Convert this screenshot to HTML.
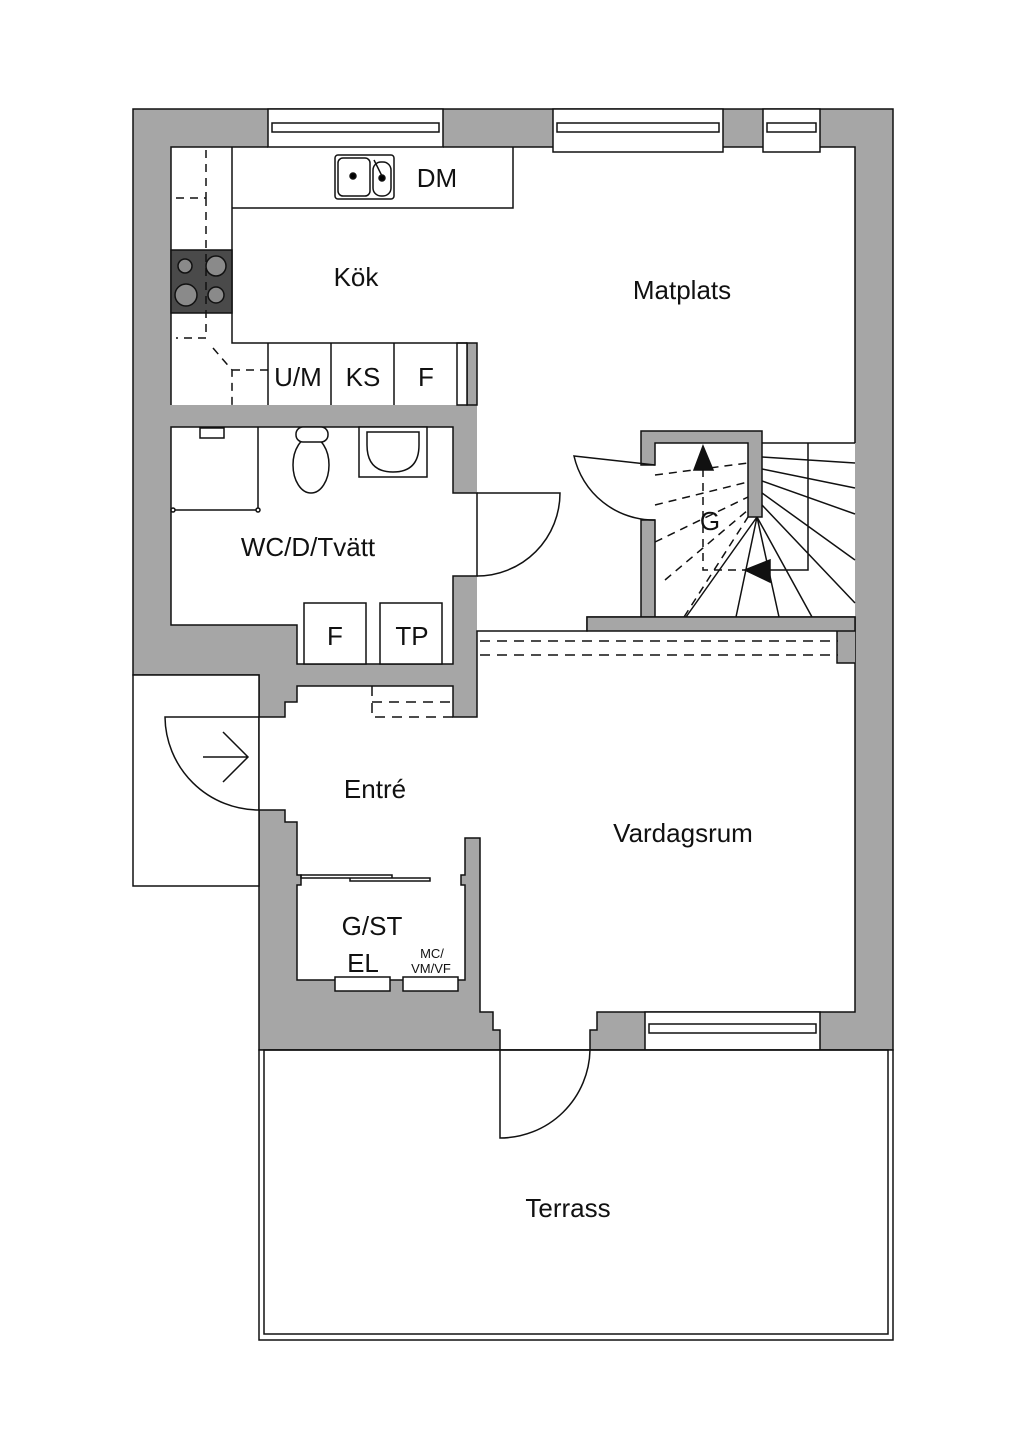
<!DOCTYPE html>
<html><head><meta charset="utf-8"><style>
html,body{margin:0;padding:0;background:#fff}
svg{display:block}
text{font-family:"Liberation Sans",sans-serif;fill:#111}
</style></head><body>
<svg width="1024" height="1448" viewBox="0 0 1024 1448" xmlns="http://www.w3.org/2000/svg">
<g stroke="#111" stroke-width="1.5">
<polygon fill="#a6a6a6" points="133,109 893,109 893,1050 259,1050 259,675 133,675"/>
<rect x="133" y="675" width="126" height="211" fill="#fff"/>
<polygon fill="#fff" stroke="none" points="171,147 855,147 855,617 587,617 587,631 477,631 477,405 467,405 467,343 457,343 457,405 171,405"/>
<path fill="none" d="M171,405 L171,147 L268,147 M443,147 L553,147 M723,147 L763,147 M820,147 L855,147 L855,443"/>
<rect x="467" y="343" width="10" height="62" fill="#a6a6a6"/>
<rect x="457" y="343" width="10" height="62" fill="#fff"/>
<polygon fill="#fff" points="171,427 453,427 453,493 477,493 477,576 453,576 453,664 297,664 297,625 171,625"/>
<polygon fill="#fff" points="297,686 453,686 453,717 477,717 477,631 587,631 587,617 855,617 855,1012 820,1012 645,1012 645,1012 597,1012 597,1030 590,1030 590,1050 500,1050 500,1030 493,1030 493,1012 480,1012 480,838 465,838 465,875 461,875 461,885 465,885 465,980 297,980 297,885 301,885 301,875 297,875 297,822 285,822 285,810 259,810 259,717 285,717 285,702 297,702"/>
<rect x="837" y="631" width="18" height="32" fill="#a6a6a6" stroke="none"/>
<path fill="none" d="M837,631 L837,663 L855,663"/>
<polygon fill="#a6a6a6" points="641,431 762,431 762,517 748,517 748,443 655,443 655,465 641,465"/>
<polygon fill="#a6a6a6" points="641,520 655,520 655,617 641,617"/>
<polygon fill="#a6a6a6" points="587,617 855,617 855,631 587,631"/>
<rect x="268" y="109" width="175" height="38" fill="#fff"/>
<rect x="272" y="123" width="167" height="9" fill="#fff"/>
<rect x="553" y="109" width="170" height="43" fill="#fff"/>
<rect x="557" y="123" width="162" height="9" fill="#fff"/>
<rect x="763" y="109" width="57" height="43" fill="#fff"/>
<rect x="767" y="123" width="49" height="9" fill="#fff"/>
<rect x="645" y="1012" width="175" height="38" fill="#fff"/>
<rect x="649" y="1024" width="167" height="9" fill="#fff"/>
<rect x="259" y="1050" width="634" height="290" fill="#fff"/>
<rect x="264" y="1050" width="624" height="284" fill="none"/>
<path fill="none" d="M232,147 L232,208 L513,208 L513,147 M232,208 L232,343 L467,343 M268,343 L268,405 M331,343 L331,405 M394,343 L394,405"/>
<rect x="171" y="250" width="61" height="63" fill="#4a4a4a"/>
<g fill="#8a8a8a" stroke="#111"><circle cx="185" cy="266" r="7"/><circle cx="216" cy="266" r="10"/><circle cx="186" cy="295" r="11"/><circle cx="216" cy="295" r="8"/></g>
<path fill="none" stroke-dasharray="8,6" d="M176,198 L206,198 L206,147 M206,198 L206,338 L176,338 M213,348 L232,370 L232,405 M232,370 L268,370"/>
<rect x="335" y="155" width="59" height="44" rx="3" fill="#fff"/>
<rect x="338" y="158" width="32" height="38" rx="5" fill="none"/>
<rect x="373" y="162" width="18" height="34" rx="8" fill="none"/>
<circle cx="353" cy="176" r="3"/><circle cx="382" cy="178" r="3"/>
<line x1="374" y1="160" x2="382" y2="176"/>
<path fill="none" d="M258,427 L258,510 L173,510"/>
<circle cx="258" cy="510" r="2" fill="#fff"/><circle cx="173" cy="510" r="2" fill="#fff"/>
<rect x="200" y="428" width="24" height="10" fill="#fff"/>
<ellipse cx="311" cy="465" rx="18" ry="28" fill="#fff"/>
<rect x="296" y="427" width="32" height="15" rx="7" fill="#fff"/>
<rect x="359" y="427" width="68" height="50" fill="#fff"/>
<path fill="none" d="M367,432 L419,432 L419,445 Q419,472 393,472 Q367,472 367,445 Z"/>
<rect x="304" y="603" width="62" height="61" fill="#fff"/>
<rect x="380" y="603" width="62" height="61" fill="#fff"/>
<path fill="none" d="M477,576 A83,83 0 0 0 560,493 L477,493"/>
<path fill="none" d="M655,465 L574,456 A82,82 0 0 0 655,520"/>
<path fill="none" d="M259,717 L165,717 A94,94 0 0 0 259,810"/>
<path fill="none" d="M203,757 L248,757 M223,732 L248,757 L223,782"/>
<path fill="none" d="M500,1050 L500,1138 A90,90 0 0 0 590,1050"/>
<path fill="none" stroke-dasharray="10,7" d="M480,641 L838,641 M480,655 L838,655 M372,686 L372,717 L453,717 M372,702 L453,702"/>
<path fill="none" d="M762,443 L855,443 M808,443 L808,570 L762,570 M762,457 L855,463 M762,469 L855,488 M762,481 L855,514 M762,493 L855,560 M762,505 L855,603 M757,517 L812,617 M757,517 L779,617 M757,517 L736,617 M757,517 L686,617"/>
<path fill="none" stroke-dasharray="8,6" d="M655,475 L748,463 M655,505 L748,482 M655,542 L748,497 M665,580 L748,510 M684,617 L748,517 M703,455 L703,570 L748,570"/>
<polygon fill="#111" points="703,446 694,470 713,470"/>
<polygon fill="#111" points="745,570 770,560 770,582"/>
<path fill="none" d="M301,875 L392,875 L392,878 L301,878 Z M350,878 L430,878 L430,881 L350,881 Z"/>
<rect x="335" y="977" width="55" height="14" fill="#fff"/>
<rect x="403" y="977" width="55" height="14" fill="#fff"/>
</g>
<g font-size="26" text-anchor="middle">
<text x="437" y="187">DM</text>
<text x="356" y="286">Kök</text>
<text x="682" y="299">Matplats</text>
<text x="298" y="386">U/M</text>
<text x="363" y="386">KS</text>
<text x="426" y="386">F</text>
<text x="308" y="556">WC/D/Tvätt</text>
<text x="335" y="645">F</text>
<text x="412" y="645">TP</text>
<text x="710" y="530">G</text>
<text x="375" y="798">Entré</text>
<text x="683" y="842">Vardagsrum</text>
<text x="372" y="935">G/ST</text>
<text x="363" y="972">EL</text>
<text x="568" y="1217">Terrass</text>
</g>
<g font-size="13" text-anchor="middle"><text x="432" y="958">MC/</text><text x="431" y="973">VM/VF</text></g>
</svg>
</body></html>
